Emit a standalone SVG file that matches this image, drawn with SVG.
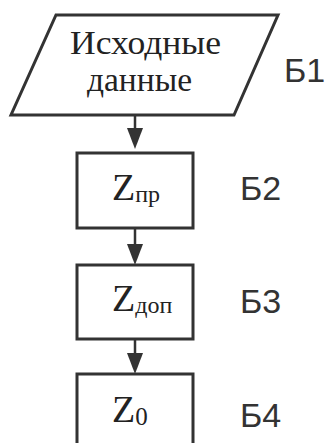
<svg xmlns="http://www.w3.org/2000/svg" width="332" height="443" viewBox="0 0 332 443">
<style>
.shape{fill:#fff;stroke:#333;stroke-width:3;stroke-linejoin:miter}
.t{font-family:"Liberation Serif","Times New Roman",serif;fill:#222}
.lbl{font-family:"Liberation Sans",Arial,sans-serif;font-size:34px;fill:#333}
.edge{stroke:#333;stroke-width:2.5;fill:none}
.head{fill:#333}
</style>
<rect width="332" height="443" fill="#fff"/>
<g id="connectors">
<line class="edge" x1="135" y1="115" x2="135" y2="132"/>
<path class="head" d="M127,128 L143,128 L135,149 Z"/>
<line class="edge" x1="135" y1="228" x2="135" y2="248"/>
<path class="head" d="M127,244 L143,244 L135,265 Z"/>
<line class="edge" x1="135" y1="339" x2="135" y2="357"/>
<path class="head" d="M127,353 L143,353 L135,374 Z"/>
</g>
<g id="b1">
<polygon class="shape" points="56,15 278,15 234,115 11,115"/>
<text class="t" x="70" y="54" font-size="33" textLength="151" lengthAdjust="spacingAndGlyphs">Исходные</text>
<text class="t" x="87" y="91" font-size="33" textLength="105" lengthAdjust="spacingAndGlyphs">данные</text>
<text class="lbl" x="284" y="82">Б1</text>
</g>
<g id="b2">
<rect class="shape" x="77" y="153" width="116" height="75"/>
<text class="t" x="112" y="200" font-size="38">Z<tspan font-size="24" dy="2">пр</tspan></text>
<text class="lbl" x="240" y="200">Б2</text>
</g>
<g id="b3">
<rect class="shape" x="77" y="265" width="116" height="74"/>
<text class="t" x="112" y="311" font-size="38">Z<tspan font-size="24" dy="2">доп</tspan></text>
<text class="lbl" x="240" y="313">Б3</text>
</g>
<g id="b4">
<rect class="shape" x="77" y="374" width="116" height="80"/>
<text class="t" x="112" y="422" font-size="38">Z<tspan font-size="25" dy="3">0</tspan></text>
<text class="lbl" x="240" y="427">Б4</text>
</g>
</svg>
